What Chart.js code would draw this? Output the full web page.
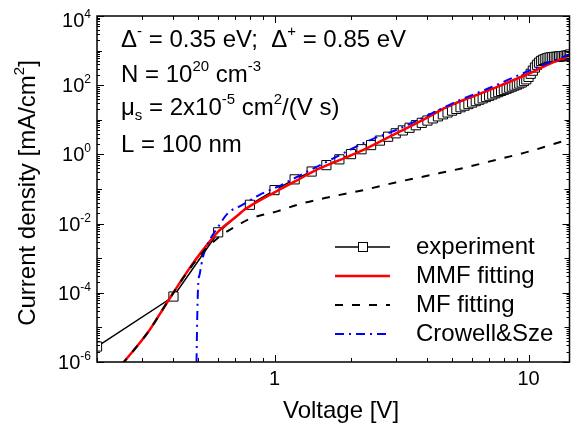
<!DOCTYPE html>
<html>
<head>
<meta charset="utf-8">
<script src="https://cdn.jsdelivr.net/npm/chart.js@4"></script>
<style>
  body { margin: 0; background: #fff; }
  #wrap { width: 577px; height: 423px; }
</style>
</head>
<body>
<div id="wrap"><canvas id="ivChart" width="577" height="423"></canvas></div>
<script>
// experiment (open squares), voltage in V, current density in mA/cm^2
const expVoltage = [0.2, 0.4, 0.6, 0.8, 1.0, 1.2, 1.4, 1.6, 1.8, 2.0, 2.2, 2.4, 2.6, 2.8, 3.0,
    3.2, 3.4, 3.6, 3.8, 4.0, 4.2, 4.4, 4.6, 4.8, 5.0, 5.2, 5.4, 5.6, 5.8, 6.0,
    6.2, 6.4, 6.6, 6.8, 7.0, 7.2, 7.4, 7.6, 7.8, 8.0, 8.2, 8.4, 8.6, 8.8, 9.0,
    9.2, 9.4, 9.6, 9.8, 10.0, 10.2, 10.4, 10.6, 10.8, 11.0, 11.2, 11.4, 11.6, 11.8, 12.0,
    12.2, 12.4, 12.6, 12.8, 13.0, 13.2, 13.4, 13.6, 13.8, 14.0, 14.2, 14.4, 14.6];
const expCurrent = [2.8e-6, 7.8e-5, 5.6e-3, 0.035, 0.093, 0.19, 0.32, 0.49, 0.72, 1.02, 1.41, 1.86, 2.51, 3.24, 4.07,
    4.93, 5.89, 6.98, 8.18, 9.51, 11.0, 12.6, 14.4, 16.3, 18.4, 20.6, 23.1, 25.7, 28.5, 31.5,
    34.7, 38.1, 41.7, 45.5, 49.6, 53.9, 58.5, 63.2, 68.3, 73.6, 79.1, 84.9, 91.0, 97.5, 104,
    112, 120, 132, 148, 174, 214, 263, 324, 389, 447, 501, 540, 570, 600, 620,
    635, 645, 655, 660, 665, 672, 680, 690, 700, 708, 720, 740, 775];

// MMF fitting (red solid)
const mmfVoltage = [0.25, 0.319, 0.376, 0.458, 0.523, 0.6, 0.717, 0.76, 0.8, 1.0, 1.23, 1.43, 1.8, 2.24, 3.0, 3.96, 4.74, 7.0, 10, 12, 14.6];
const mmfCurrent = [8.3e-7, 7.6e-6, 5.0e-5, 4.6e-4, 1.74e-3, 5.9e-3, 0.0174, 0.025, 0.032, 0.08, 0.18, 0.33, 0.68, 1.35, 4.0, 11.2, 23, 72, 214, 398, 741];

// MF fitting (black dashed)
const mfVoltage = [0.25, 0.319, 0.376, 0.458, 0.523, 0.6, 0.717, 0.808, 1.03, 1.23, 1.6, 2.24, 3.0, 4.08, 5.5, 7.42, 10, 13.5, 14.6];
const mfCurrent = [8.3e-7, 7.6e-6, 5.0e-5, 4.4e-4, 1.5e-3, 3.9e-3, 9.1e-3, 0.0141, 0.023, 0.035, 0.056, 0.093, 0.155, 0.25, 0.40, 0.69, 1.2, 2.34, 2.75];

// Crowell&Sze (blue dash-dot)
const csVoltage = [0.493, 0.496, 0.5, 0.508, 0.523, 0.547, 0.6, 0.655, 0.738, 0.884, 1.04, 1.19, 1.56, 2.38, 3.0, 4.0, 5.0, 7.0, 10, 14.6];
const csCurrent = [1e-6, 1.6e-5, 1.5e-4, 3.6e-4, 1.1e-3, 2.7e-3, 8.1e-3, 0.02, 0.033, 0.071, 0.12, 0.2, 0.55, 2.6, 5.0, 13.2, 29.5, 83, 257, 794];

const xTickValues = [1, 10];
const yTickExponents = [-6, -4, -2, 0, 2, 4];

const FONT = '"Liberation Sans", Arial, sans-serif';

function toPoints(xs, ys) {
    return xs.map((x, i) => ({ x: x, y: ys[i] }));
}

// draws text made of normal / superscript / subscript pieces
function drawRich(ctx, x, y, parts, size, align) {
    const small = Math.round(size * 0.62);
    let total = 0;
    const widths = parts.map(([t, k]) => {
        ctx.font = (k === 'n' ? size : small) + 'px ' + FONT;
        const w = ctx.measureText(t).width;
        total += w;
        return w;
    });
    let cx = x;
    if (align === 'right') cx = x - total;
    if (align === 'center') cx = x - total / 2;
    ctx.textAlign = 'left';
    ctx.textBaseline = 'alphabetic';
    parts.forEach(([t, k], i) => {
        ctx.font = (k === 'n' ? size : small) + 'px ' + FONT;
        let dy = 0;
        if (k === 'sup') dy = -size * 0.45;
        if (k === 'sub') dy = size * 0.22;
        ctx.fillText(t, cx, y + dy);
        cx += widths[i];
    });
}

function line(ctx, x1, y1, x2, y2) {
    ctx.beginPath();
    ctx.moveTo(x1, y1);
    ctx.lineTo(x2, y2);
    ctx.stroke();
}

const framePlugin = {
    id: 'frame',
    afterDraw(chart) {
        const ctx = chart.ctx;
        const area = chart.chartArea;
        const xs = chart.scales.x;
        const ys = chart.scales.y;
        ctx.save();
        ctx.fillStyle = '#000';
        ctx.strokeStyle = '#000';

        // tick marks, pointing inward on all four sides
        ctx.lineWidth = 1;
        for (let e = -1; e <= 1; e++) {
            for (let m = 1; m <= 9; m++) {
                const v = m * Math.pow(10, e);
                if (v < xs.min * 0.999 || v > xs.max) continue;
                const px = Math.round(xs.getPixelForValue(v)) + 0.5;
                const len = m === 1 ? 7 : 4;
                line(ctx, px, area.bottom, px, area.bottom - len);
                line(ctx, px, area.top, px, area.top + len);
            }
        }
        for (let e = -6; e <= 4; e++) {
            for (let m = 1; m <= 9; m++) {
                const v = m * Math.pow(10, e);
                if (v > ys.max * 1.001) continue;
                const py = Math.round(ys.getPixelForValue(v)) + 0.5;
                const len = m === 1 ? (e % 2 === 0 ? 7 : 5) : 3;
                line(ctx, area.left, py, area.left + len, py);
                line(ctx, area.right, py, area.right - len, py);
            }
        }

        // frame
        ctx.lineWidth = 1.5;
        ctx.strokeRect(area.left, area.top, area.right - area.left, area.bottom - area.top);

        // x tick labels
        ctx.font = '20px ' + FONT;
        ctx.textAlign = 'center';
        ctx.textBaseline = 'alphabetic';
        xTickValues.forEach(v => {
            ctx.fillText(String(v), xs.getPixelForValue(v), area.bottom + 23);
        });

        // y tick labels 10^n
        yTickExponents.forEach(n => {
            const py = Math.max(ys.getPixelForValue(Math.pow(10, n)), 20);
            drawRich(ctx, 91, py + 7, [['10', 'n'], [String(n), 'sup']], 20, 'right');
        });

        // axis titles
        ctx.font = '24px ' + FONT;
        ctx.textAlign = 'center';
        ctx.fillText('Voltage [V]', 341, 418);
        ctx.save();
        ctx.translate(35, 193);
        ctx.rotate(-Math.PI / 2);
        drawRich(ctx, 0, 0, [['Current density [mA/cm', 'n'], ['2', 'sup'], [']', 'n']], 24, 'center');
        ctx.restore();

        // parameter annotations
        const s = 24;
        drawRich(ctx, 121, 47, [['\u0394', 'n'], ['-', 'sup'], [' = 0.35 eV;  \u0394', 'n'], ['+', 'sup'], [' = 0.85 eV', 'n']], s, 'left');
        drawRich(ctx, 121, 82, [['N = 10', 'n'], ['20', 'sup'], [' cm', 'n'], ['-3', 'sup']], s, 'left');
        drawRich(ctx, 121, 115, [['\u03bc', 'n'], ['s', 'sub'], [' = 2x10', 'n'], ['-5', 'sup'], [' cm', 'n'], ['2', 'sup'], ['/(V s)', 'n']], s, 'left');
        drawRich(ctx, 121, 152, [['L = 100 nm', 'n']], s, 'left');

        // legend
        const rows = [
            { label: 'experiment', color: '#000', dash: [], width: 1.5, marker: true },
            { label: 'MMF fitting', color: '#ff0000', dash: [], width: 2.5 },
            { label: 'MF fitting', color: '#000', dash: [8, 9], width: 2 },
            { label: 'Crowell&Sze', color: '#0000ff', dash: [9, 5, 2, 5], width: 2 }
        ];
        rows.forEach((r, i) => {
            const ly = 247 + i * 29;
            ctx.strokeStyle = r.color;
            ctx.lineWidth = r.width;
            ctx.setLineDash(r.dash);
            line(ctx, 335, ly, 390, ly);
            ctx.setLineDash([]);
            if (r.marker) {
                ctx.fillStyle = '#fff';
                ctx.fillRect(358, ly - 4.5, 9, 9);
                ctx.strokeStyle = '#000';
                ctx.lineWidth = 1;
                ctx.strokeRect(358.5, ly - 4.5, 9, 9);
            }
            ctx.fillStyle = '#000';
            ctx.font = '24px ' + FONT;
            ctx.textAlign = 'left';
            ctx.textBaseline = 'alphabetic';
            ctx.fillText(r.label, 416, ly + 7);
        });
        ctx.restore();
    }
};

new Chart(document.getElementById('ivChart').getContext('2d'), {
    type: 'line',
    data: {
        datasets: [
            {
                label: 'experiment',
                data: toPoints(expVoltage, expCurrent),
                borderColor: '#000',
                borderWidth: 1.5,
                pointStyle: 'rect',
                pointRadius: 6.5,
                pointBackgroundColor: '#fff',
                pointBorderColor: '#000',
                pointBorderWidth: 1,
                tension: 0,
                order: 3
            },
            {
                label: 'MMF fitting',
                data: toPoints(mmfVoltage, mmfCurrent),
                borderColor: '#ff0000',
                borderWidth: 2.5,
                pointRadius: 0,
                cubicInterpolationMode: 'monotone',
                order: 2
            },
            {
                label: 'MF fitting',
                data: toPoints(mfVoltage, mfCurrent),
                borderColor: '#000',
                borderWidth: 2,
                borderDash: [8, 9],
                pointRadius: 0,
                cubicInterpolationMode: 'monotone',
                order: 0
            },
            {
                label: 'Crowell&Sze',
                data: toPoints(csVoltage, csCurrent),
                borderColor: '#0000ff',
                borderWidth: 2,
                borderDash: [9, 5, 2, 5],
                pointRadius: 0,
                cubicInterpolationMode: 'monotone',
                order: 1
            }
        ]
    },
    options: {
        responsive: false,
        animation: false,
        layout: { padding: { left: 97, top: 16, right: 2, bottom: 61 } },
        scales: {
            x: { type: 'logarithmic', min: 0.2, max: 14.5, display: false },
            y: { type: 'logarithmic', min: 1e-6, max: 1e4, display: false }
        },
        plugins: {
            legend: { display: false },
            tooltip: { enabled: false }
        }
    },
    plugins: [framePlugin]
});
</script>
</body>
</html>
